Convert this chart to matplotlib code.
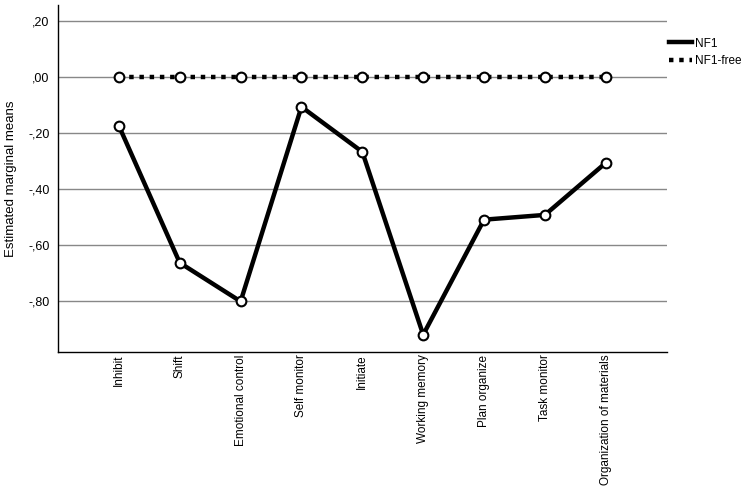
import numpy as np
import matplotlib.pyplot as plt

plt.rcParams['font.family'] = ['Liberation Sans', 'DejaVu Sans']

categories = ['Inhibit', 'Shift', 'Emotional control', 'Self monitor', 'Initiate',
              'Working memory', 'Plan organize', 'Task monitor',
              'Organization of materials']
nf1 = [-0.175, -0.664, -0.802, -0.107, -0.268, -0.921, -0.510, -0.493, -0.307]
nf1_free = [0.0] * 9
yticks = [0.2, 0.0, -0.2, -0.4, -0.6, -0.8]
ytick_labels = [',20', ',00', '-,20', '-,40', '-,60', '-,80']

fig = plt.figure(figsize=(7.44, 4.9), dpi=100)
ax = fig.add_axes([0.078, 0.282, 0.818, 0.708])

x = np.arange(1, len(categories) + 1)

ax.plot(x, nf1, color='black', lw=3.2, marker='o', ms=7, mfc='white',
        mec='black', mew=1.5, label='NF1', zorder=3)
ax.plot(x, nf1_free, color='black', lw=3.2, ls=(0, (1, 1.3)), marker='o', ms=7,
        mfc='white', mec='black', mew=1.5, label='NF1-free', zorder=4)

ax.set_xlim(0, 10)
ax.set_ylim(-0.982, 0.257)
ax.set_yticks(yticks)
ax.set_yticklabels(ytick_labels, fontsize=9)
ax.set_xticks(x)
ax.set_xticklabels(categories, rotation=90, fontsize=8.5)
ax.tick_params(axis='x', length=0, pad=2)
ax.tick_params(axis='y', length=0, pad=6)
ax.yaxis.grid(True, color='#888888', lw=1)
ax.set_axisbelow(True)
for s in ['top', 'right']:
    ax.spines[s].set_visible(False)
ax.spines['left'].set_linewidth(1)
ax.spines['bottom'].set_linewidth(1)
ax.set_ylabel('Estimated marginal means', fontsize=9.5, labelpad=8)

leg = fig.legend(loc='upper left', bbox_to_anchor=(0.8855, 0.945), frameon=False,
                 fontsize=8.5, handlelength=1.9, handletextpad=0.3,
                 labelspacing=0.5)
for h in leg.legend_handles:
    h.set_marker('')

fig.savefig('out.png', dpi=100)
